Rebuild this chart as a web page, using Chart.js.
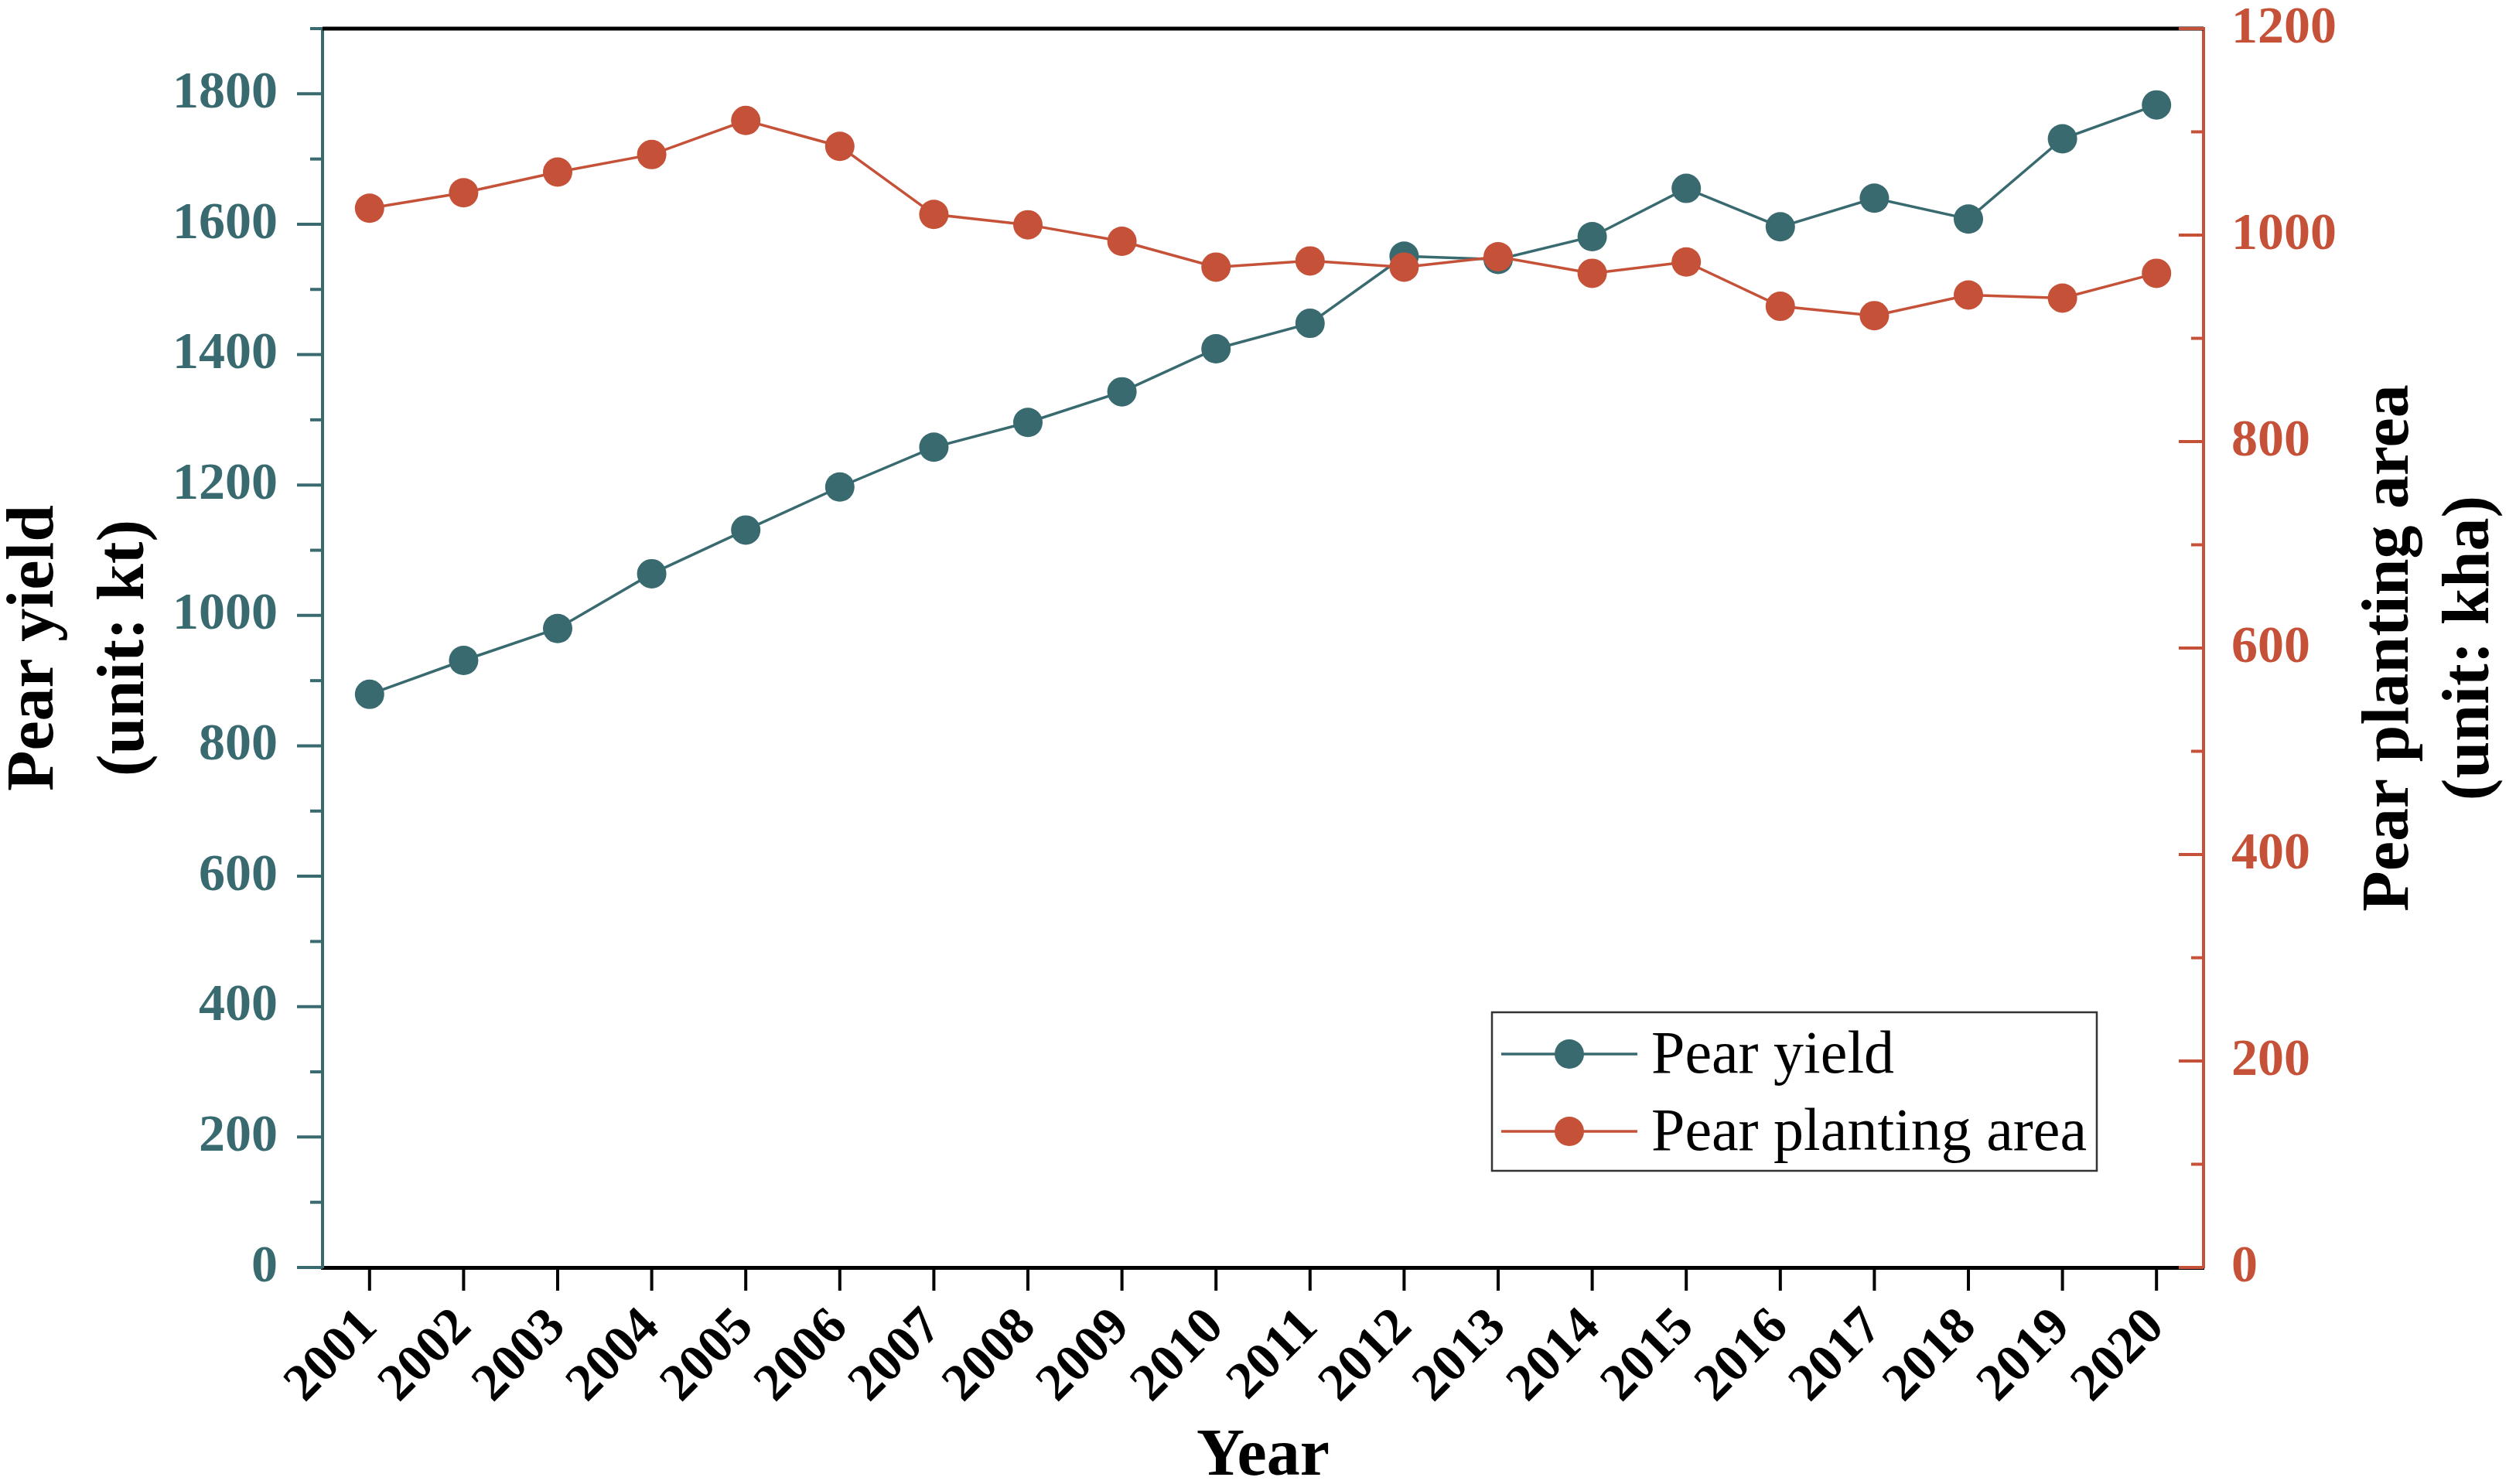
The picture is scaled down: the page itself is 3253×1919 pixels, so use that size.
<!DOCTYPE html>
<html>
<head>
<meta charset="utf-8">
<script src="https://cdn.jsdelivr.net/npm/chart.js@4.4.0/dist/chart.umd.min.js"></script>
<style>
  html, body { margin: 0; padding: 0; background: #fff; }
  #chart { display: block; }
</style>
</head>
<body>
<canvas id="chart" width="3253" height="1919" style="width:3253px;height:1919px"></canvas>
<script>
const years = ["2001", "2002", "2003", "2004", "2005", "2006", "2007", "2008", "2009", "2010",
  "2011", "2012", "2013", "2014", "2015", "2016", "2017", "2018", "2019", "2020"];
const pearYield = [879, 931, 980, 1064, 1131, 1197, 1258, 1296, 1343, 1409,
  1448, 1551, 1546, 1581, 1655, 1596, 1640, 1608, 1731, 1783];
const plantingArea = [1026, 1041, 1061, 1078, 1111, 1086, 1020, 1010, 994, 969,
  975, 969, 979, 963, 974, 931, 922, 942, 939, 963];
const yieldTicks = [0, 200, 400, 600, 800, 1000, 1200, 1400, 1600, 1800];
const areaTicks = [0, 200, 400, 600, 800, 1000, 1200];

const TEAL = "#386a70";
const RED = "#c55238";
const SERIF = "'Liberation Serif', 'Times New Roman', serif";

// ticks (major + minor), top frame line, y titles and the boxed legend
const decorations = {
  id: "decorations",
  afterDraw(chart) {
    const ctx = chart.ctx;
    const { left, right, top, bottom } = chart.chartArea;
    const y = chart.scales.y, y1 = chart.scales.y1, x = chart.scales.x;
    ctx.save();

    // top frame
    ctx.strokeStyle = "#000";
    ctx.lineWidth = 5;
    ctx.beginPath();
    ctx.moveTo(left, top);
    ctx.lineTo(right, top);
    ctx.stroke();

    // left axis ticks (outward)
    ctx.strokeStyle = TEAL;
    ctx.lineWidth = 4;
    for (let v = 0; v <= y.max; v += 100) {
      const py = y.getPixelForValue(v);
      const len = v % 200 === 0 ? 33 : 16;
      ctx.beginPath();
      ctx.moveTo(left - len, py);
      ctx.lineTo(left, py);
      ctx.stroke();
    }

    // right axis ticks (inward)
    ctx.strokeStyle = RED;
    for (let v = 0; v <= y1.max; v += 100) {
      const py = y1.getPixelForValue(v);
      const len = v % 200 === 0 ? 32 : 16;
      ctx.beginPath();
      ctx.moveTo(right - len, py);
      ctx.lineTo(right, py);
      ctx.stroke();
    }

    // x ticks
    ctx.strokeStyle = "#000";
    ctx.lineWidth = 4;
    years.forEach((_, i) => {
      const px = x.getPixelForValue(i);
      ctx.beginPath();
      ctx.moveTo(px, bottom);
      ctx.lineTo(px, bottom + 30);
      ctx.stroke();
    });

    // y titles, both reading bottom to top
    ctx.fillStyle = "#000";
    ctx.font = "bold 86px " + SERIF;
    ctx.textAlign = "center";
    ctx.textBaseline = "middle";
    const midY = (top + bottom) / 2;
    [[46, "Pear yield"], [163, "(unit: kt)"], [3091, "Pear planting area"], [3195, "(unit: kha)"]]
      .forEach(([tx, text]) => {
        ctx.save();
        ctx.translate(tx, midY);
        ctx.rotate(-Math.PI / 2);
        ctx.fillText(text, 0, 0);
        ctx.restore();
      });

    // legend
    const bx = 1929, by = 1309, bw = 782, bh = 205;
    ctx.strokeStyle = "#333";
    ctx.lineWidth = 2.5;
    ctx.strokeRect(bx, by, bw, bh);
    ctx.font = "78px " + SERIF;
    ctx.textAlign = "left";
    chart.data.datasets.forEach((ds, i) => {
      const ry = by + 54 + i * 100;
      ctx.strokeStyle = ds.borderColor;
      ctx.lineWidth = 3.5;
      ctx.beginPath();
      ctx.moveTo(bx + 12, ry);
      ctx.lineTo(bx + 188, ry);
      ctx.stroke();
      ctx.fillStyle = ds.pointBackgroundColor;
      ctx.beginPath();
      ctx.arc(bx + 100, ry, 19, 0, Math.PI * 2);
      ctx.fill();
      ctx.fillStyle = "#000";
      ctx.fillText(ds.label, bx + 206, ry + 4);
    });
    ctx.restore();
  }
};

function noPad(scale) {
  scale.paddingTop = 0;
  scale.paddingBottom = 0;
  scale.paddingLeft = 0;
  scale.paddingRight = 0;
}

new Chart(document.getElementById("chart"), {
  type: "line",
  data: {
    labels: years,
    datasets: [
      {
        label: "Pear yield",
        data: pearYield,
        yAxisID: "y",
        borderColor: TEAL,
        backgroundColor: TEAL,
        pointBackgroundColor: TEAL,
        pointBorderWidth: 0,
        pointRadius: 19,
        borderWidth: 3.5,
        order: 1,
      },
      {
        label: "Pear planting area",
        data: plantingArea,
        yAxisID: "y1",
        borderColor: RED,
        backgroundColor: RED,
        pointBackgroundColor: RED,
        pointBorderWidth: 0,
        pointRadius: 19,
        borderWidth: 3.5,
        order: 0,
      },
    ],
  },
  options: {
    responsive: false,
    animation: false,
    devicePixelRatio: 1,
    layout: { padding: { top: 37, left: 0, right: 0, bottom: 0 } },
    plugins: { legend: { display: false }, tooltip: { enabled: false } },
    elements: { line: { tension: 0 } },
    scales: {
      x: {
        type: "category",
        offset: true,
        grid: { display: false, drawTicks: false },
        border: { display: true, color: "#000", width: 5 },
        ticks: {
          color: "#000",
          font: { family: SERIF, size: 68, weight: "bold" },
          minRotation: 45,
          maxRotation: 45,
          padding: 38,
          autoSkip: false,
        },
        title: {
          display: true,
          text: "Year",
          color: "#000",
          font: { family: SERIF, size: 86, weight: "bold", lineHeight: 0.8 },
          padding: { top: 0, bottom: 0 },
        },
        afterFit(scale) { scale.height = 280; noPad(scale); },
      },
      y: {
        position: "left",
        min: 0,
        max: 1900,
        grid: { display: false, drawTicks: false },
        border: { display: true, color: TEAL, width: 4 },
        ticks: {
          color: TEAL,
          font: { family: SERIF, size: 68, weight: "bold" },
          padding: 58,
          callback: (v) => String(v),
        },
        afterBuildTicks(scale) { scale.ticks = yieldTicks.map((v) => ({ value: v })); },
        afterFit(scale) { scale.width = 417; noPad(scale); },
      },
      y1: {
        position: "right",
        min: 0,
        max: 1200,
        grid: { display: false, drawTicks: false },
        border: { display: true, color: RED, width: 4 },
        ticks: {
          color: RED,
          font: { family: SERIF, size: 68, weight: "bold" },
          padding: 36,
          callback: (v) => String(v),
        },
        afterBuildTicks(scale) { scale.ticks = areaTicks.map((v) => ({ value: v })); },
        afterFit(scale) { scale.width = 404; noPad(scale); },
      },
    },
  },
  plugins: [decorations],
});
</script>
</body>
</html>
